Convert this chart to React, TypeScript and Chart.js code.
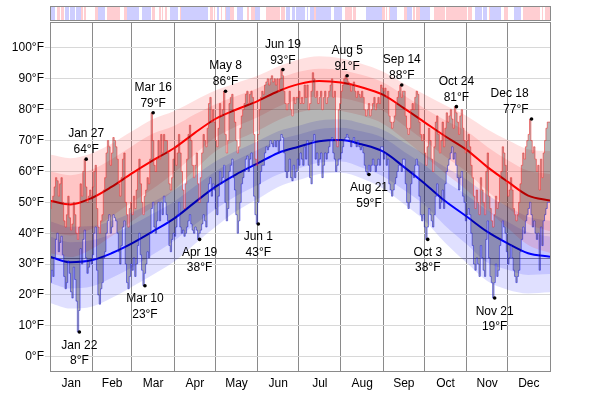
import React, { useEffect, useRef } from 'react';
import { Chart, registerables } from 'chart.js';

Chart.register(...registerables);

const FONT = '"Liberation Sans", Arial, Helvetica, sans-serif';

// ---- axis / category data ----
const MONTHS = ['Jan', 'Feb', 'Mar', 'Apr', 'May', 'Jun', 'Jul', 'Aug', 'Sep', 'Oct', 'Nov', 'Dec'];
const MONTH_DAYS = [31, 29, 31, 30, 31, 30, 31, 31, 30, 31, 30, 31];
const Y_TICKS = [0, 10, 20, 30, 40, 50, 60, 70, 80, 90, 100];
const Y_MIN = -4.63;
const Y_MAX = 108.42;
const FREEZING = 32;

// ---- daily highs (°F) ----
const HI_JAN = [54, 48, 50, 52, 55, 58, 57, 52, 56, 58, 50, 44, 42, 46, 52, 45, 41, 43, 50, 46, 40, 38, 42, 56, 52, 60, 64, 55, 50, 52, 54];
const HI_FEB = [52, 55, 60, 62, 48, 42, 40, 44, 46, 54, 58, 66, 70, 68, 62, 66, 71, 70, 68, 64, 56, 52, 58, 64, 66, 50, 46, 42, 48];
const HI_MAR = [50, 46, 52, 48, 54, 60, 64, 56, 50, 46, 52, 54, 58, 56, 64, 79, 70, 62, 60, 64, 70, 64, 72, 66, 72, 70, 70, 66, 56, 54, 58];
const HI_APR = [64, 68, 62, 66, 72, 66, 60, 54, 48, 56, 64, 72, 75, 70, 62, 58, 62, 66, 56, 50, 58, 66, 72, 70, 68, 74, 82, 84, 76, 80];
const HI_MAY = [76, 70, 68, 74, 82, 78, 80, 86, 72, 66, 70, 82, 84, 85, 80, 76, 70, 66, 68, 74, 78, 80, 82, 85, 86, 82, 85, 86, 84, 72, 64];
const HI_JUN = [62, 72, 80, 84, 86, 85, 88, 89, 90, 88, 90, 91, 89, 90, 88, 90, 86, 90, 93, 91, 86, 82, 80, 82, 86, 80, 78, 84, 82, 84];
const HI_JUL = [84, 86, 82, 84, 82, 88, 84, 88, 80, 82, 86, 92, 90, 84, 86, 82, 84, 86, 80, 84, 86, 82, 84, 86, 88, 90, 84, 86, 70, 68, 80];
const HI_AUG = [82, 86, 88, 90, 91, 90, 89, 88, 86, 88, 89, 86, 84, 86, 85, 84, 86, 84, 80, 78, 80, 82, 78, 80, 82, 84, 80, 82, 84, 82, 88];
const HI_SEP = [87, 86, 87, 84, 86, 78, 76, 74, 76, 78, 82, 84, 86, 88, 84, 86, 86, 78, 74, 72, 74, 80, 82, 80, 84, 86, 85, 76, 72, 70];
const HI_OCT = [72, 66, 62, 68, 74, 70, 64, 60, 68, 76, 78, 72, 66, 70, 76, 68, 74, 79, 76, 78, 80, 77, 74, 81, 79, 76, 72, 78, 80, 74, 70];
const HI_NOV = [66, 70, 72, 68, 62, 58, 52, 48, 54, 50, 46, 58, 54, 50, 46, 60, 66, 52, 48, 44, 42, 46, 52, 48, 50, 58, 60, 68, 66, 62];
const HI_DEC = [56, 52, 54, 58, 54, 48, 46, 44, 46, 50, 56, 62, 66, 64, 68, 70, 72, 77, 70, 66, 68, 64, 60, 62, 54, 64, 58, 66, 70, 74, 76];

// ---- daily lows (°F) ----
const LO_JAN = [17, 24, 28, 26, 32, 38, 40, 34, 37, 39, 33, 26, 22, 24, 31, 27, 21, 19, 29, 25, 18, 8, 15, 35, 30, 38, 41, 32, 27, 29, 31];
const LO_FEB = [30, 33, 40, 42, 28, 20, 17, 22, 24, 32, 34, 40, 44, 46, 40, 42, 46, 45, 44, 40, 34, 30, 36, 42, 44, 30, 24, 22, 26];
const LO_MAR = [30, 28, 32, 26, 30, 36, 40, 33, 28, 23, 27, 30, 34, 32, 40, 48, 50, 42, 40, 44, 50, 44, 50, 46, 52, 50, 46, 44, 36, 34, 38];
const LO_APR = [40, 39, 42, 46, 50, 42, 40, 41, 39, 40, 42, 44, 46, 43, 41, 40, 42, 41, 38, 40, 41, 43, 46, 44, 42, 50, 56, 58, 52, 56];
const LO_MAY = [54, 48, 46, 52, 60, 56, 58, 62, 50, 44, 48, 60, 62, 64, 58, 54, 46, 40, 44, 50, 56, 58, 60, 64, 65, 60, 64, 66, 62, 52, 46];
const LO_JUN = [43, 50, 56, 60, 62, 62, 66, 68, 67, 68, 70, 69, 68, 70, 68, 70, 66, 70, 72, 71, 66, 60, 58, 60, 64, 58, 57, 62, 58, 60];
const LO_JUL = [64, 62, 66, 64, 62, 68, 64, 70, 62, 58, 56, 70, 72, 64, 66, 62, 64, 66, 58, 62, 66, 64, 66, 68, 70, 71, 66, 64, 60, 62, 64];
const LO_AUG = [64, 66, 68, 70, 71, 72, 71, 70, 68, 70, 71, 69, 68, 70, 68, 67, 68, 66, 62, 60, 59, 62, 60, 62, 64, 62, 60, 62, 64, 62, 68];
const LO_SEP = [68, 64, 66, 62, 64, 56, 54, 52, 54, 56, 58, 60, 62, 62, 60, 64, 64, 56, 50, 48, 50, 56, 60, 58, 62, 64, 62, 52, 46, 44];
const LO_OCT = [46, 42, 38, 42, 48, 46, 44, 42, 46, 52, 56, 52, 48, 50, 54, 48, 56, 60, 62, 64, 66, 68, 64, 66, 62, 58, 54, 58, 60, 52, 50];
const LO_NOV = [44, 46, 48, 46, 40, 36, 30, 28, 32, 30, 26, 36, 32, 28, 26, 38, 44, 32, 26, 24, 19, 24, 30, 26, 28, 36, 38, 44, 42, 40];
const LO_DEC = [34, 30, 32, 36, 32, 28, 26, 24, 26, 28, 34, 38, 42, 40, 44, 46, 48, 50, 46, 42, 44, 40, 38, 40, 28, 42, 36, 44, 46, 48, 50];

// ---- climatology (average + percentile bands), read at anchor days ----
const ANCHOR_DAYS = [0, 15, 31, 45, 60, 75, 91, 106, 121, 136, 152, 167, 182, 197, 213, 228, 244, 259, 274, 289, 305, 320, 335, 350, 366];
const AVG_HI = [50.5, 49.3, 51.5, 55, 59.4, 63.5, 67.6, 72.5, 77, 80, 82.8, 86, 88.3, 89.3, 88.8, 87.3, 84.8, 80.5, 76, 71.5, 67, 61.5, 56.7, 52.2, 50.6];
const HI_P90 = [65.5, 64.3, 66, 69, 73, 76.9, 79.6, 83, 86.2, 88.6, 91, 94, 96.3, 97.3, 96.6, 94.9, 92.3, 88.5, 85, 81.5, 78, 73.7, 70.2, 67.2, 66.6];
const HI_P75 = [60, 58.8, 60.7, 64, 68.2, 72.2, 74.8, 78.5, 81.8, 84.4, 87, 90, 92.3, 93.3, 92.8, 91.3, 88.8, 84.7, 80.5, 76.7, 73, 68, 63.7, 60.2, 59.2];
const HI_P25 = [40.5, 39.3, 41.5, 45.4, 50, 54.3, 59.6, 65.5, 71, 74.5, 77.6, 81, 83.3, 84.3, 83.8, 82.3, 79.6, 74.9, 70, 64.9, 59.8, 53.7, 48.3, 43, 40.6];
const HI_P10 = [33.5, 32.3, 35, 39, 43.9, 48.5, 54.1, 60.5, 66.5, 70, 73.2, 76.6, 79.1, 80.1, 79.6, 78.1, 75.4, 70.5, 65, 59.5, 54, 47.5, 41.7, 36.2, 33.6];
const AVG_LO = [32.4, 30.6, 31.3, 33.5, 36.7, 40.5, 44.8, 50, 55, 59, 62.6, 66, 68, 69.8, 70.2, 68.8, 66.4, 61.5, 56.2, 50.5, 45.4, 40.5, 36.7, 33.5, 32.4];
const LO_P90 = [43.9, 42.1, 42.3, 44, 46.7, 50.1, 54, 58.6, 63.2, 66.6, 69.8, 73, 74.8, 76.5, 76.9, 75.6, 73.4, 69.5, 65.7, 61.5, 57.4, 52.5, 48.7, 45.3, 44];
const LO_P75 = [38.9, 37.1, 37.8, 39.7, 42.7, 46.3, 50.3, 55.2, 60, 63.6, 67, 70.2, 72, 73.8, 74.2, 73, 70.9, 66.5, 62.2, 57, 52.4, 47.5, 43.7, 40.3, 38.9];
const LO_P25 = [23.9, 22.1, 22.8, 25.5, 28.9, 33, 37.6, 42.8, 47.8, 52, 55.6, 59, 61, 62.8, 63.2, 61.3, 58.4, 54, 49.2, 42.5, 36.4, 30.5, 28.2, 26.5, 26.8];
const LO_P10 = [17.4, 15.6, 16.3, 19, 22.7, 26.5, 30.8, 36.5, 42, 47, 51.1, 55, 57.2, 59.2, 59.6, 57.8, 54.4, 49.5, 44.2, 37, 30.4, 24.5, 21.7, 20.5, 20.9];

// ---- annotated extremes ----
const RECORD_LABELS = ['Jan 22', 'Jan 27', 'Mar 10', 'Mar 16', 'Apr 19', 'May 8', 'Jun 1', 'Jun 19', 'Aug 5', 'Aug 21', 'Sep 14', 'Oct 3', 'Oct 24', 'Nov 21', 'Dec 18'];
const RECORD_DAYS = [21, 26, 69, 75, 109, 128, 152, 170, 217, 233, 257, 276, 297, 325, 352];
const RECORD_VALUES = [8, 64, 23, 79, 38, 86, 43, 93, 91, 59, 88, 38, 81, 19, 77];
const RECORD_KINDS = ['low', 'high', 'low', 'high', 'low', 'high', 'low', 'high', 'high', 'low', 'high', 'low', 'high', 'low', 'high'];

// ---- top strip: runs of days warmer (r) / colder (b) / near (w) normal ----
const ANOMALY_RUNS: [string, number][] = [
  ['b', 4], ['w', 1], ['r', 2], ['w', 1], ['r', 2], ['w', 1], ['b', 3], ['w', 1], ['b', 3], ['w', 1],
  ['b', 4], ['r', 1], ['w', 1], ['r', 1], ['w', 7], ['r', 2], ['b', 5], ['w', 2], ['r', 9], ['w', 3],
  ['r', 2], ['b', 9], ['w', 2], ['b', 7], ['w', 1], ['r', 2], ['w', 3], ['r', 1], ['w', 1], ['r', 1],
  ['w', 1], ['r', 2], ['w', 2], ['b', 6], ['w', 1], ['r', 1], ['b', 20], ['w', 1], ['r', 2], ['w', 1],
  ['r', 1], ['w', 1], ['b', 2], ['w', 1], ['r', 1], ['w', 2], ['r', 1], ['b', 3], ['r', 3], ['w', 2],
  ['b', 4], ['w', 3], ['r', 2], ['w', 1], ['r', 3], ['b', 4], ['w', 4], ['r', 10], ['w', 1], ['r', 3],
  ['w', 1], ['b', 3], ['w', 1], ['b', 2], ['w', 1], ['b', 7], ['w', 1], ['b', 1], ['w', 1], ['b', 3],
  ['r', 2], ['b', 11], ['w', 2], ['b', 6], ['w', 2], ['r', 5], ['w', 1], ['r', 2], ['w', 7], ['b', 12],
  ['r', 2], ['w', 1], ['r', 1], ['w', 1], ['r', 1], ['b', 5], ['w', 5], ['r', 2], ['b', 4], ['w', 1],
  ['r', 1], ['w', 1], ['r', 3], ['b', 7], ['w', 3], ['r', 8], ['w', 1], ['r', 15], ['w', 1], ['r', 3],
  ['w', 2], ['b', 5], ['w', 1], ['b', 3], ['w', 1], ['r', 1], ['b', 8], ['w', 2], ['r', 3], ['w', 5],
  ['b', 5], ['w', 1], ['r', 13], ['w', 1], ['r', 1], ['w', 1], ['r', 4],
];

// ---- derived tables ----
const HIGHS = [HI_JAN, HI_FEB, HI_MAR, HI_APR, HI_MAY, HI_JUN, HI_JUL, HI_AUG, HI_SEP, HI_OCT, HI_NOV, HI_DEC].flat();
const LOWS = [LO_JAN, LO_FEB, LO_MAR, LO_APR, LO_MAY, LO_JUN, LO_JUL, LO_AUG, LO_SEP, LO_OCT, LO_NOV, LO_DEC].flat();
const TOTAL_DAYS = MONTH_DAYS.reduce((a, b) => a + b, 0);
const BOUNDARIES: number[] = [0];
MONTH_DAYS.forEach((d) => BOUNDARIES.push(BOUNDARIES[BOUNDARIES.length - 1] + d));
const MIDPOINTS = MONTHS.map((_, i) => (BOUNDARIES[i] + BOUNDARIES[i + 1]) / 2);

const stepPoints = (vals: number[]) => {
  const pts = vals.map((v, i) => ({ x: i, y: v }));
  pts.push({ x: vals.length, y: vals[vals.length - 1] });
  return pts;
};
const anchorPoints = (vals: number[]) => vals.map((v, i) => ({ x: ANCHOR_DAYS[i], y: v }));

const RED_BAND = 'rgba(255,0,0,0.12)';
const BLUE_BAND = 'rgba(0,0,255,0.12)';

const bandDs = (vals: number[], fill: any, color: string) => ({
  data: anchorPoints(vals),
  borderWidth: 0,
  borderColor: 'transparent',
  pointRadius: 0,
  backgroundColor: color,
  fill,
  cubicInterpolationMode: 'monotone',
  order: 10,
});

const overlayPlugin = {
  id: 'overlay',
  beforeDatasetsDraw(chart: any) {
    const { ctx, chartArea: a, scales } = chart;
    const py = Math.round(scales.y.getPixelForValue(FREEZING)) + 0.5;
    ctx.save();
    ctx.strokeStyle = '#8a8a8a';
    ctx.lineWidth = 1;
    ctx.beginPath();
    ctx.moveTo(a.left, py);
    ctx.lineTo(a.right, py);
    ctx.stroke();
    ctx.restore();
  },
  afterDatasetsDraw(chart: any) {
    const { ctx, chartArea: a, scales } = chart;
    ctx.save();
    ctx.font = `12px ${FONT}`;
    ctx.fillStyle = '#000';
    ctx.textBaseline = 'alphabetic';
    RECORD_LABELS.forEach((label, i) => {
      const px = scales.x.getPixelForValue(RECORD_DAYS[i] + 0.5);
      const py = scales.y.getPixelForValue(RECORD_VALUES[i]);
      const valueText = `${RECORD_VALUES[i]}°F`;
      const w = Math.max(ctx.measureText(label).width, ctx.measureText(valueText).width);
      let tx = px;
      if (px + w / 2 > a.right - 2) {
        ctx.textAlign = 'right';
        tx = px - 3;
      } else {
        ctx.textAlign = 'center';
      }
      if (RECORD_KINDS[i] === 'high') {
        ctx.fillText(label, tx, py - 22);
        ctx.fillText(valueText, tx, py - 6);
      } else {
        ctx.fillText(label, tx, py + 16.5);
        ctx.fillText(valueText, tx, py + 32);
      }
    });
    ctx.restore();
  },
  afterDraw(chart: any) {
    const { ctx, chartArea: a, scales } = chart;
    ctx.save();
    // top anomaly strip
    const top = 7;
    const bottom = 20;
    let day = 0;
    ANOMALY_RUNS.forEach(([kind, len]) => {
      if (kind !== 'w') {
        const x0 = Math.round(scales.x.getPixelForValue(day));
        const x1 = Math.round(scales.x.getPixelForValue(day + len));
        ctx.fillStyle = kind === 'r' ? 'rgb(255,206,210)' : 'rgb(206,206,255)';
        ctx.fillRect(x0, top, x1 - x0, bottom - top + 1);
      }
      day += len;
    });
    ctx.strokeStyle = '#8a8a8a';
    ctx.lineWidth = 1;
    ctx.strokeRect(a.left + 0.5, 6.5, a.right - a.left, 14);
    // plot frame
    ctx.strokeRect(a.left + 0.5, a.top + 0.5, a.right - a.left, a.bottom - a.top);
    ctx.restore();
  },
};

export default function App() {
  const ref = useRef<HTMLCanvasElement>(null);

  useEffect(() => {
    if (!ref.current) return;
    Chart.defaults.font.family = FONT;
    Chart.defaults.font.size = 12;
    Chart.defaults.color = '#000';

    const chart = new Chart(ref.current, {
      type: 'line',
      data: {
        datasets: [
          bandDs(HI_P90, '+1', RED_BAND),
          bandDs(HI_P10, false, RED_BAND),
          bandDs(HI_P75, '+1', RED_BAND),
          bandDs(HI_P25, false, RED_BAND),
          bandDs(LO_P90, '+1', BLUE_BAND),
          bandDs(LO_P10, false, BLUE_BAND),
          bandDs(LO_P75, '+1', BLUE_BAND),
          bandDs(LO_P25, false, BLUE_BAND),
          {
            data: anchorPoints(AVG_HI),
            borderColor: '#ff0000',
            borderWidth: 2,
            pointRadius: 0,
            fill: false,
            cubicInterpolationMode: 'monotone',
            order: 5,
          },
          {
            data: anchorPoints(AVG_LO),
            borderColor: '#0000ff',
            borderWidth: 2,
            pointRadius: 0,
            fill: false,
            cubicInterpolationMode: 'monotone',
            order: 5,
          },
          {
            data: stepPoints(HIGHS),
            stepped: 'after' as any,
            borderColor: 'rgba(240,40,40,0.55)',
            borderWidth: 1,
            pointRadius: 0,
            backgroundColor: 'rgba(0,0,0,0.29)',
            fill: '+1',
            order: 3,
          },
          {
            data: stepPoints(LOWS),
            stepped: 'after' as any,
            borderColor: 'rgba(40,40,240,0.55)',
            borderWidth: 1,
            pointRadius: 0,
            fill: false,
            order: 3,
          },
          {
            data: RECORD_DAYS.map((d, i) => ({ x: d + 0.5, y: RECORD_VALUES[i] })),
            showLine: false,
            pointRadius: 1.8,
            pointBackgroundColor: '#000',
            pointBorderColor: '#000',
            pointBorderWidth: 0,
            order: 1,
          },
        ] as any,
      },
      options: {
        animation: false,
        responsive: false,
        devicePixelRatio: 1,
        events: [],
        layout: { padding: { top: 22, right: 50, left: 0, bottom: 0 } },
        plugins: { legend: { display: false }, tooltip: { enabled: false } },
        scales: {
          x: {
            type: 'linear',
            min: 0,
            max: TOTAL_DAYS,
            afterBuildTicks: (s: any) => {
              const ticks = [...BOUNDARIES, ...MIDPOINTS].sort((p, q) => p - q);
              s.ticks = ticks.map((v) => ({ value: v }));
            },
            afterFit: (s: any) => {
              s.height = 23;
            },
            grid: {
              color: (c: any) => (c.tick && BOUNDARIES.includes(c.tick.value) ? '#8a8a8a' : 'rgba(0,0,0,0)'),
              drawTicks: false,
              lineWidth: 1,
            },
            border: { display: false },
            ticks: {
              autoSkip: false,
              maxRotation: 0,
              padding: 5,
              color: '#000',
              font: { size: 12, family: FONT },
              callback: (v: any) => {
                const i = MIDPOINTS.indexOf(Number(v));
                return i >= 0 ? MONTHS[i] : '';
              },
            },
          },
          y: {
            type: 'linear',
            min: Y_MIN,
            max: Y_MAX,
            afterBuildTicks: (s: any) => {
              s.ticks = Y_TICKS.map((v) => ({ value: v }));
            },
            afterFit: (s: any) => {
              s.width = 50;
            },
            grid: { color: '#d8d8d8', lineWidth: 1, tickLength: 5 },
            border: { display: false },
            ticks: {
              padding: 1,
              color: '#000',
              font: { size: 12, family: FONT },
              callback: (v: any) => `${v}°F`,
            },
          },
        },
      } as any,
      plugins: [overlayPlugin],
    });
    return () => chart.destroy();
  }, []);

  return (
    <div style={{ position: 'absolute', left: 0, top: 0, width: 600, height: 394, background: '#fff' }}>
      <canvas ref={ref} width={600} height={394} style={{ display: 'block', width: 600, height: 394 }} />
    </div>
  );
}
